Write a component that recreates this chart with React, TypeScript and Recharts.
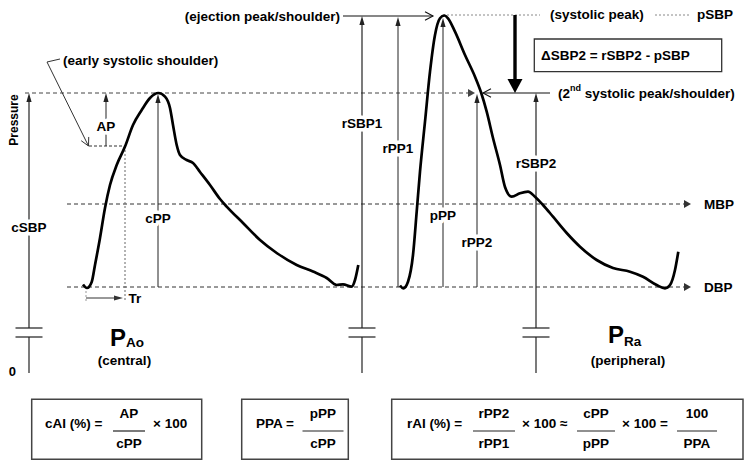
import React from 'react';
import { LineChart, Line, XAxis, YAxis, ReferenceLine, ReferenceDot, ReferenceArea } from 'recharts';

const FONT = '"Liberation Sans", Arial, Helvetica, sans-serif';

// Central (aortic) pressure waveform: time units and pressure units
const centralT = [54, 58, 62.7, 66, 71, 76, 81, 87.7, 96, 104, 112.7, 121, 129.3, 136, 141, 144, 147.7, 151, 157.7, 164, 171, 181, 191, 197.7, 214, 231, 247.7, 267.7, 284, 297.7, 307.7, 314, 322.7, 326, 329.3];
const centralP = [44.25, 42.5, 45.5, 54, 67.5, 82.5, 94, 104, 113.2, 124, 131.5, 137.5, 140, 138.2, 132.5, 124, 114, 109, 106.5, 105, 100.5, 94, 87, 83.2, 75, 66.5, 60, 54, 50.7, 47.5, 44, 44.3, 43.2, 46.5, 54];

// Peripheral (radial) pressure waveform
const peripheralT = [371, 374.3, 379, 384, 387.7, 391, 396, 401, 406, 411, 415.3, 419, 426, 436, 446, 452, 457.7, 464, 471, 476, 482.7, 491, 499, 506, 514, 524, 537.7, 551, 567.7, 584, 601, 614, 627.7, 636, 641, 646, 649.3];
const peripheralP = [43.75, 42.35, 45.65, 59, 80.65, 100.65, 125.65, 150.65, 169, 177.35, 178.75, 177.35, 170.65, 159, 148.15, 140.35, 130.65, 117.5, 104, 93, 88.15, 89.85, 90.65, 88.15, 84, 78.15, 70, 63.15, 56.5, 52.5, 50.65, 48.15, 44, 42.35, 44, 51.5, 60.65];

const centralData = centralT.map((t, i) => ({ t, p: centralP[i] }));
const peripheralData = peripheralT.map((t, i) => ({ t, p: peripheralP[i] }));

// pressure levels
const DBP = 43;
const MBP = 84.5;
const SHOULDER = 113.5;
const SBP2 = 140;
const PSBP = 178.5;
const BREAK_LO = 18;
const BREAK_HI = 22.5;
const TR_LEVEL = 37.5;

// time positions
const T_AXIS = 0;
const T_AP = 77;
const T_SHOULDER = 96;
const T_FOOT = 57;
const T_CPP = 129;
const T_RSBP1 = 333;
const T_RPP1 = 369;
const T_PPP = 414;
const T_RPP2 = 448;
const T_DELTA = 486;
const T_RSBP2 = 507;

const yTicks = [0];

const verticals = [
  { name: 'cSBP', t: T_AXIS, from: 0, to: SBP2, label: 73, broken: true },
  { name: 'rSBP1', t: T_RSBP1, from: 0, to: PSBP, label: 125, broken: true },
  { name: 'rSBP2', t: T_RSBP2, from: 0, to: SBP2, label: 105, broken: true },
  { name: 'cPP', t: T_CPP, from: DBP, to: SBP2 - 0.5, label: 77.5, broken: false },
  { name: 'rPP1', t: T_RPP1, from: DBP, to: PSBP - 0.5, label: 112.5, broken: false },
  { name: 'pPP', t: T_PPP, from: DBP, to: PSBP - 1, label: 79, broken: false },
  { name: 'rPP2', t: T_RPP2, from: DBP, to: SBP2 - 0.5, label: 65.5, broken: false },
  { name: 'AP', t: T_AP, from: SHOULDER, to: SBP2, label: 123.5, broken: false },
];

// formula boxes (below the axis)
const FORM_TOP = -13.15;
const FORM_BOTTOM = -43.15;
const FORM_TEXT = -25;
const NUM_Y = -20;
const BAR_Y = -29;
const DEN_Y = -35.2;
const formulaBoxes = [
  { x1: 2.7, x2: 172.7 },
  { x1: 212.7, x2: 319.3 },
  { x1: 362.7, x2: 714 },
];
const formulaTexts = [
  { t: 16, s: 'cAI (%) =' },
  { t: 124, s: '× 100' },
  { t: 227, s: 'PPA =' },
  { t: 378, s: 'rAI (%) =' },
  { t: 493, s: '× 100 ≈' },
  { t: 593, s: '× 100 =' },
];
const fractions = [
  { t: 100, hw: 16, num: 'AP', den: 'cPP' },
  { t: 294, hw: 20.5, num: 'pPP', den: 'cPP' },
  { t: 465, hw: 21, num: 'rPP2', den: 'rPP1' },
  { t: 567, hw: 19, num: 'cPP', den: 'pPP' },
  { t: 668, hw: 20, num: '100', den: 'PPA' },
];

type HeadKind = 'fill' | 'open' | 'tri' | 'thick';
const HEADS: Record<HeadKind, { len: number; hw: number; filled: boolean }> = {
  fill: { len: 9, hw: 2.6, filled: true },
  open: { len: 8, hw: 4.2, filled: false },
  tri: { len: 7, hw: 4, filled: true },
  thick: { len: 14, hw: 7.5, filled: true },
};

type ArrowOpts = { head?: HeadKind; color?: string; width?: number; dash?: string };

function makeArrow(o: ArrowOpts) {
  return (p: any) => {
    const x1 = Number(p.x1), y1 = Number(p.y1), x2 = Number(p.x2), y2 = Number(p.y2);
    const color = o.color ?? '#111';
    const w = o.width ?? 1.1;
    const dx = x2 - x1, dy = y2 - y1;
    const L = Math.hypot(dx, dy) || 1;
    const ux = dx / L, uy = dy / L, nx = -uy, ny = ux;
    let ex = x2, ey = y2;
    let head: React.ReactNode = null;
    if (o.head) {
      const h = HEADS[o.head];
      const bx = x2 - ux * h.len, by = y2 - uy * h.len;
      const pts = `${bx + nx * h.hw},${by + ny * h.hw} ${x2},${y2} ${bx - nx * h.hw},${by - ny * h.hw}`;
      if (h.filled) {
        head = <polygon points={pts} fill={color} stroke="none" />;
        ex = x2 - ux * h.len * 0.7;
        ey = y2 - uy * h.len * 0.7;
      } else {
        head = <polyline points={pts} fill="none" stroke={color} strokeWidth={w} />;
      }
    }
    return (
      <g>
        <line x1={x1} y1={y1} x2={ex} y2={ey} stroke={color} strokeWidth={w} strokeDasharray={o.dash} />
        {head}
      </g>
    );
  };
}

function seg(key: string, t1: number, p1: number, t2: number, p2: number, o: ArrowOpts = {}) {
  return (
    <ReferenceLine
      key={key}
      segment={[{ x: t1, y: p1 }, { x: t2, y: p2 }]}
      ifOverflow="visible"
      shape={makeArrow(o)}
    />
  );
}

type TextOpts = {
  anchor?: 'start' | 'middle' | 'end';
  size?: number;
  halo?: boolean;
  rotate?: number;
  baseline?: 'central' | 'alphabetic';
};

function label(key: string, t: number, p: number, content: React.ReactNode, o: TextOpts = {}) {
  return (
    <ReferenceDot
      key={key}
      x={t}
      y={p}
      r={0}
      ifOverflow="visible"
      shape={(s: any) => (
        <text
          x={s.cx}
          y={s.cy}
          textAnchor={o.anchor ?? 'start'}
          dominantBaseline={o.baseline ?? 'central'}
          fontFamily={FONT}
          fontWeight={700}
          fontSize={o.size ?? 13.5}
          fill="#000"
          stroke={o.halo ? '#fff' : 'none'}
          strokeWidth={o.halo ? 7 : 0}
          strokeLinejoin="round"
          paintOrder="stroke"
          transform={o.rotate ? `rotate(${o.rotate} ${s.cx} ${s.cy})` : undefined}
        >
          {content}
        </text>
      )}
    />
  );
}

const renderYTick = (props: any) => (
  <text x={props.x} y={props.y - 2} textAnchor="end" dominantBaseline="central" fontFamily={FONT} fontWeight={700} fontSize={13} fill="#000">
    {props.payload.value}
  </text>
);

export default function App() {
  const DASH = '4 3';
  const DOT = '2 2';
  return (
    <div style={{ position: 'absolute', left: 0, top: 0, width: 750, height: 468, background: '#fff' }}>
      <LineChart width={750} height={468} margin={{ top: 13, right: 7, bottom: 95, left: 0 }} style={{ fontFamily: FONT }}>
        <XAxis
          type="number"
          dataKey="t"
          domain={[0, 714]}
          allowDataOverflow
          tick={false}
          tickLine={false}
          height={0}
          axisLine={{ stroke: '#333', strokeWidth: 1.5 }}
        />
        <YAxis
          type="number"
          dataKey="p"
          domain={[0, 180]}
          allowDataOverflow
          ticks={yTicks}
          interval={0}
          width={29}
          axisLine={false}
          tickLine={false}
          tickSize={6}
          tickMargin={7}
          tick={renderYTick}
        />

        {/* horizontal reference levels */}
        {seg('mbp', 38, MBP, 662, MBP, { head: 'tri', dash: DASH, color: '#333', width: 1 })}
        {seg('dbp', 38, DBP, 662, DBP, { head: 'tri', dash: DASH, color: '#333', width: 1 })}
        {seg('sbp2-left', -4, SBP2, 446, SBP2, { head: 'tri', dash: DASH, color: '#444', width: 1 })}
        {seg('sbp2-right', 521, SBP2, 454, SBP2, { head: 'open', color: '#111', width: 1.1 })}
        {seg('ejection', 314, PSBP, 404, PSBP, { head: 'open', color: '#111', width: 1.1 })}
        {seg('psbp-dot1', 414, PSBP + 0.5, 511, PSBP + 0.5, { dash: DOT, color: '#888', width: 1 })}
        {seg('psbp-dot2', 626, PSBP + 0.5, 661, PSBP + 0.5, { dash: DOT, color: '#888', width: 1 })}
        {seg('delta', T_DELTA, PSBP + 0.5, T_DELTA, SBP2, { head: 'thick', color: '#000', width: 3.4 })}

        {/* early systolic shoulder / AP / Tr */}
        {seg('shoulder', 60, SHOULDER, T_SHOULDER, SHOULDER, { dash: '3 2', color: '#333', width: 1 })}
        {seg('shoulder-v', T_SHOULDER, SHOULDER, T_SHOULDER, 36, { dash: DOT, color: '#666', width: 1 })}
        {seg('foot-v', T_FOOT, DBP, T_FOOT, 36, { dash: DOT, color: '#999', width: 1 })}
        {seg('tr', T_FOOT, TR_LEVEL, T_SHOULDER - 2, TR_LEVEL, { head: 'fill', color: '#333', width: 1 })}
        {seg('ptr1', 31, 157, 18, 155.5, { color: '#333', width: 1 })}
        {seg('ptr2', 18, 155.5, 59.5, SHOULDER, { head: 'open', color: '#333', width: 1 })}

        {/* axis breaks */}
        {verticals.filter((v) => v.broken).map((v) => [
          seg(`${v.name}-b1`, v.t - 13.5, BREAK_HI, v.t + 13.5, BREAK_HI, { color: '#555', width: 1.6 }),
          seg(`${v.name}-b2`, v.t - 13.5, BREAK_LO, v.t + 13.5, BREAK_LO, { color: '#555', width: 1.6 }),
          seg(`${v.name}-low`, v.t, v.from, v.t, BREAK_LO, { color: '#222', width: 1.2 }),
        ])}

        {/* vertical measurement arrows */}
        {verticals.map((v) =>
          seg(`${v.name}-v`, v.t, v.broken ? BREAK_HI : v.from, v.t, v.to, { head: 'fill', color: '#222', width: v.broken ? 1.2 : 1 })
        )}

        {/* ΔSBP2 box */}
        <ReferenceArea x1={505.3} x2={692.7} y1={150.65} y2={167} ifOverflow="visible" fill="#fff" fillOpacity={1} stroke="#333" strokeWidth={1.3} />

        {/* formula boxes */}
        {formulaBoxes.map((b, i) => (
          <ReferenceArea key={`fb${i}`} x1={b.x1} x2={b.x2} y1={FORM_BOTTOM} y2={FORM_TOP} ifOverflow="visible" fill="#fff" fillOpacity={1} stroke="#444" strokeWidth={1.5} />
        ))}
        {fractions.map((f, i) => seg(`fr${i}`, f.t - f.hw, BAR_Y, f.t + f.hw, BAR_Y, { color: '#222', width: 1.2 }))}

        {/* waveforms */}
        <Line data={centralData} dataKey="p" type="monotone" stroke="#000" strokeWidth={2.7} dot={false} activeDot={false} isAnimationActive={false} />
        <Line data={peripheralData} dataKey="p" type="monotone" stroke="#000" strokeWidth={2.7} dot={false} activeDot={false} isAnimationActive={false} />

        {/* labels */}
        {verticals.map((v) => label(`${v.name}-l`, v.t, v.label, v.name, { anchor: 'middle', halo: true }))}
        {label('ejection-l', 311, PSBP, '(ejection peak/shoulder)', { anchor: 'end' })}
        {label('early-l', 34, 156.5, '(early systolic shoulder)')}
        {label('sys-l', 521, PSBP + 1, '(systolic peak)')}
        {label('psbp-l', 668, PSBP + 1, 'pSBP')}
        {label('sbp2-l', 529, SBP2, (
          <>
            (2<tspan dy={-5} fontSize={9}>nd</tspan>
            <tspan dy={5}> systolic peak/shoulder)</tspan>
          </>
        ))}
        {label('mbp-l', 675, MBP, 'MBP')}
        {label('dbp-l', 675, DBP, 'DBP')}
        {label('tr-l', 99.5, TR_LEVEL, 'Tr')}
        {label('delta-l', 512, 158.8, 'ΔSBP2 = rSBP2 - pSBP')}
        {label('pressure-l', -15, 126.5, 'Pressure', { anchor: 'middle', rotate: -90, size: 12 })}
        {label('pao-l', 81, 13.7, (
          <>
            <tspan fontSize={24}>P</tspan>
            <tspan fontSize={13.5} dy={1.5}>Ao</tspan>
          </>
        ), { baseline: 'alphabetic' })}
        {label('central-l', 95.5, 6.5, '(central)', { anchor: 'middle' })}
        {label('pra-l', 579, 15, (
          <>
            <tspan fontSize={24}>P</tspan>
            <tspan fontSize={13.5} dy={3}>Ra</tspan>
          </>
        ), { baseline: 'alphabetic' })}
        {label('peripheral-l', 599, 6.5, '(peripheral)', { anchor: 'middle' })}

        {formulaTexts.map((f, i) => label(`ft${i}`, f.t, FORM_TEXT, f.s))}
        {fractions.map((f, i) => [
          label(`fn${i}`, f.t, NUM_Y, f.num, { anchor: 'middle' }),
          label(`fd${i}`, f.t, DEN_Y, f.den, { anchor: 'middle' }),
        ])}
      </LineChart>
    </div>
  );
}
